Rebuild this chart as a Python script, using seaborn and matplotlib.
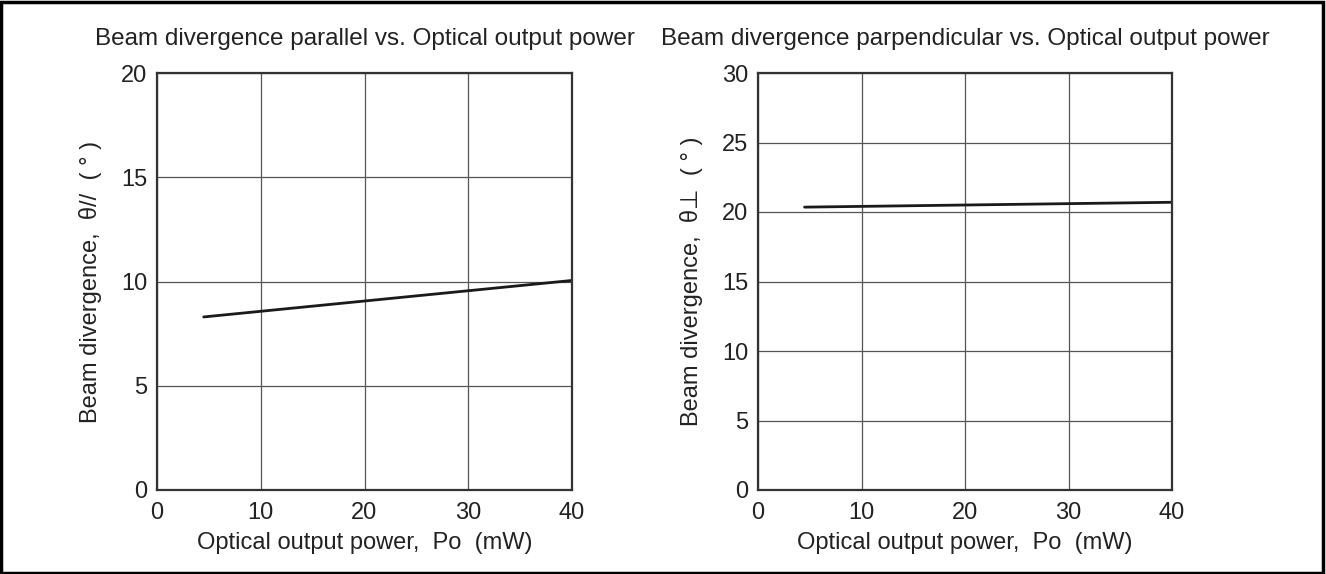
import numpy as np
import pandas as pd
import seaborn as sns
import matplotlib.pyplot as plt
from matplotlib.patches import Rectangle

## plot style, fonts and colors
sns.set_theme(style="white")
plt.rcParams['font.family'] = ['Liberation Sans', 'DejaVu Sans']

## data
power_par = [4.5, 40]
theta_par = [8.3, 10.05]
power_perp = [4.5, 40]
theta_perp = [20.35, 20.7]

x_ticks = [0, 10, 20, 30, 40]
y_ticks_par = [0, 5, 10, 15, 20]
y_ticks_perp = [0, 5, 10, 15, 20, 25, 30]

titles = ["Beam divergence parallel vs. Optical output power",
          "Beam divergence parpendicular vs. Optical output power"]
ylabels = ["Beam divergence,  θ//  ( ° )", "Beam divergence,  θ⊥  ( ° )"]
xlabel = "Optical output power,  Po  (mW)"

fig = plt.figure(figsize=(13.26, 5.74), dpi=100)
ax1 = fig.add_axes([157 / 1326, 1 - 490 / 574, 415 / 1326, 417 / 574])
ax2 = fig.add_axes([758 / 1326, 1 - 490 / 574, 414 / 1326, 417 / 574])

panels = [
    (ax1, power_par, theta_par, y_ticks_par, titles[0], ylabels[0]),
    (ax2, power_perp, theta_perp, y_ticks_perp, titles[1], ylabels[1]),
]

for ax, xs, ys, yt, title, ylab in panels:
    df = pd.DataFrame({"x": xs, "y": ys})
    sns.lineplot(data=df, x="x", y="y", ax=ax, color="#1a1a1a", linewidth=2)
    ax.set_xlim(x_ticks[0], x_ticks[-1])
    ax.set_ylim(yt[0], yt[-1])
    ax.set_xticks(x_ticks)
    ax.set_yticks(yt)
    ax.grid(True, color="#555555", linewidth=0.9)
    for s in ax.spines.values():
        s.set_color("#333333")
        s.set_linewidth(1.6)
    ax.tick_params(length=0, labelsize=17, colors="#222222")
    ax.tick_params(axis="x", pad=8.5)
    ax.tick_params(axis="y", pad=7)
    ax.set_xlabel(xlabel, fontsize=17, color="#222222", labelpad=6)
    ax.set_ylabel(ylab, fontsize=17, color="#222222", labelpad=14)
    ax.set_title(title, fontsize=17.5, color="#222222", pad=20)

# outer frame
fig.patches.append(Rectangle((0.001, 0.002), 0.997, 0.995, transform=fig.transFigure,
                             fill=False, edgecolor="black", linewidth=2.5))

plt.savefig("out.png", dpi=100)
